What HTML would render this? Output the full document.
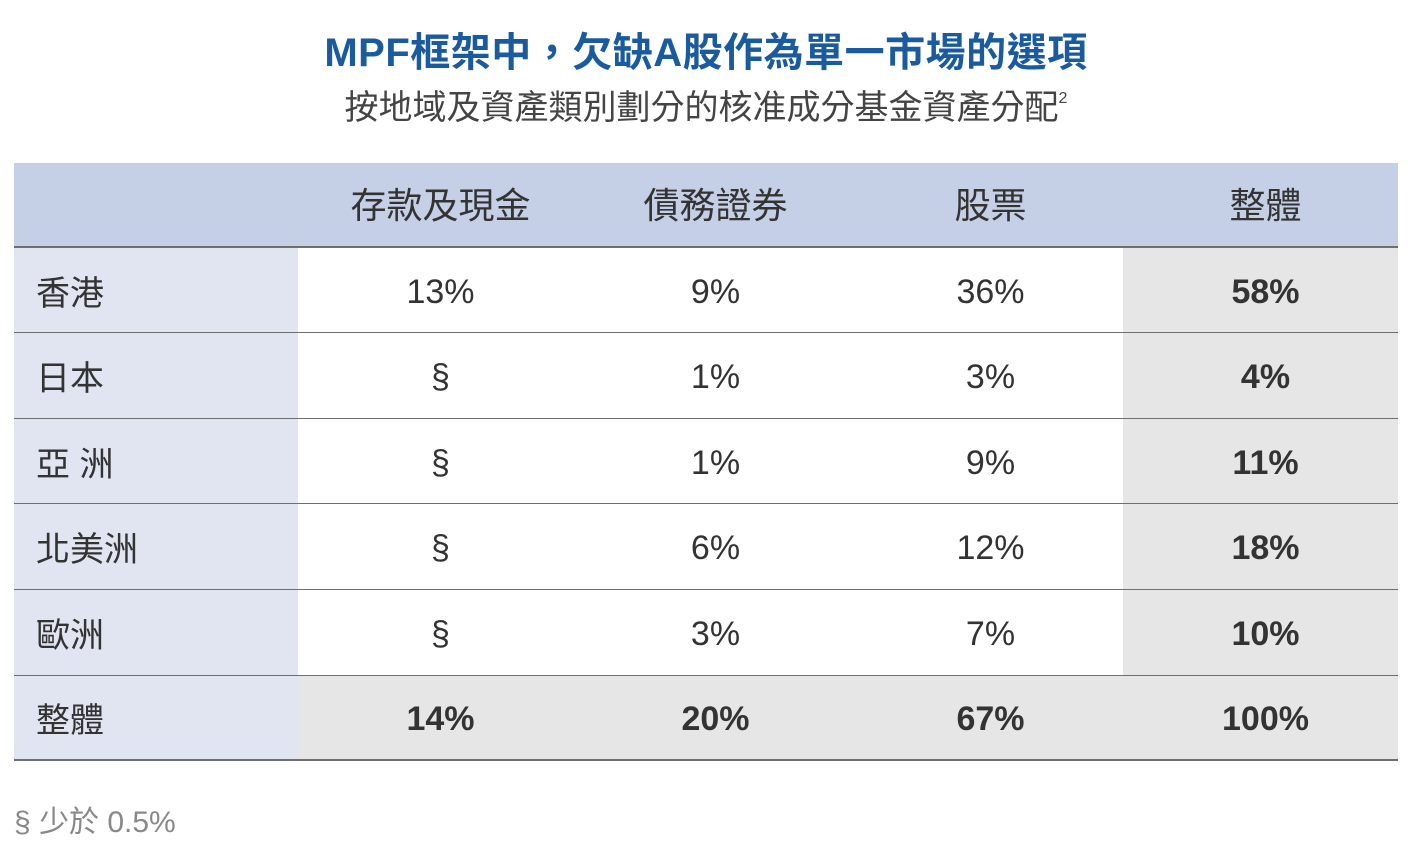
<!DOCTYPE html>
<html><head><meta charset="utf-8"><style>
body{margin:0;width:1412px;height:852px;background:#fff;position:relative;overflow:hidden;font-family:"Liberation Sans","Noto Sans CJK TC",sans-serif;color:#333}
.t{position:absolute;left:0;width:1412px;text-align:center}
.c{position:absolute;display:flex;align-items:center;justify-content:center;font-size:34px}
.l{justify-content:flex-start;padding-left:22px;box-sizing:border-box}
.b{font-weight:bold}
.line{position:absolute;left:14px;width:1384px;height:2px;background:#6e6e6e}
</style></head><body>
<div class="t" style="top:20px;font-size:40px;font-weight:bold;color:#1a5a9e;letter-spacing:0.5px">MPF框架中，欠缺A股作為單一市場的選項</div>
<div class="t" style="top:80px;font-size:34px;color:#444">按地域及資產類別劃分的核准成分基金資產分配<sup style="font-size:16px;vertical-align:16px">2</sup></div>
<div style="position:absolute;left:14px;top:163px;width:1384px;height:85px;background:#c5cfe6"></div>
<div style="position:absolute;left:14px;top:248px;width:284px;height:512px;background:#e1e5f1"></div>
<div style="position:absolute;left:1123px;top:248px;width:275px;height:512px;background:#e6e6e6"></div>
<div style="position:absolute;left:298px;top:675px;width:825px;height:85px;background:#e6e6e6"></div>
<div class="line" style="top:246px"></div>
<div class="line" style="top:332px;height:1px"></div>
<div class="line" style="top:418px;height:1px"></div>
<div class="line" style="top:503px;height:1px"></div>
<div class="line" style="top:589px;height:1px"></div>
<div class="line" style="top:675px;height:1px"></div>
<div class="line" style="top:759px"></div>
<div id="g"></div>
<div style="position:absolute;left:14px;top:797px;font-size:30px;color:#888">§ 少於 0.5%</div>
<script>
var cols=[298,573,848,1123],rows=[
["香港","13%","9%","36%","58%"],["日本","§","1%","3%","4%"],["亞 洲","§","1%","9%","11%"],
["北美洲","§","6%","12%","18%"],["歐洲","§","3%","7%","10%"],["整體","14%","20%","67%","100%"]];
var h='',hd=["存款及現金","債務證券","股票","整體"];
hd.forEach(function(x,i){h+='<div class="c" style="left:'+cols[i]+'px;top:160px;width:285px;height:85px;font-size:36px">'+x+'</div>';});
rows.forEach(function(r,j){var y=250+j*85.4;
h+='<div class="c l" style="left:14px;top:'+(y-2)+'px;width:284px;height:85px">'+r[0]+'</div>';
for(var i=1;i<5;i++){var b=(i==4||j==5)?' b':'';
h+='<div class="c'+b+'" style="left:'+cols[i-1]+'px;top:'+y+'px;width:285px;height:85px">'+r[i]+'</div>';}});
document.getElementById('g').innerHTML=h;
</script>
</body></html>
